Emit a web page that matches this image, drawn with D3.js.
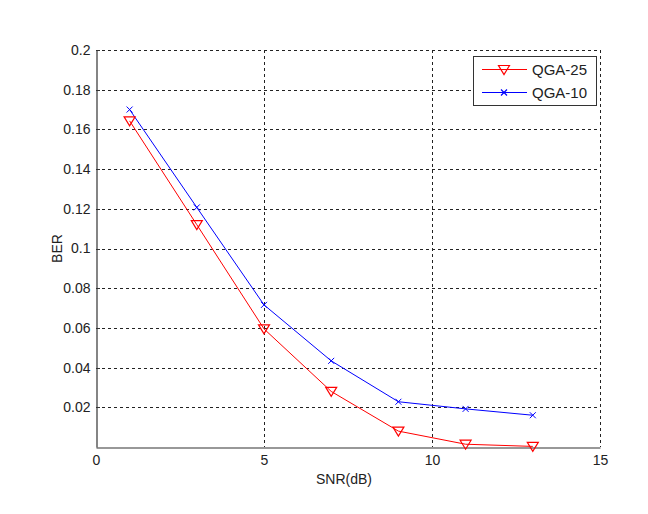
<!DOCTYPE html>
<html><head><meta charset="utf-8">
<script src="https://cdn.jsdelivr.net/npm/d3@7/dist/d3.min.js"></script>
<style>body{margin:0;background:#fff}svg{display:block}text{font-family:"Liberation Sans",Arial,sans-serif}</style>
</head><body>
<script>
const snr = [1, 3, 5, 7, 9, 11, 13];
const qga25 = [0.1643, 0.112, 0.0595, 0.028, 0.008, 0.0014, 0.0003];
const qga10 = [0.170, 0.1207, 0.0716, 0.0434, 0.0228, 0.0192, 0.016];
const xTicks = [0, 5, 10, 15];
const yTicks = [0.02, 0.04, 0.06, 0.08, 0.1, 0.12, 0.14, 0.16, 0.18, 0.2];
const seriesNames = ["QGA-25", "QGA-10"];

const W = 648, H = 514;
const L = 96, R = 600, T = 50, B = 447;
const svg = d3.select("body").append("svg").attr("width", W).attr("height", H);
const x = d3.scaleLinear().domain([0, 15]).range([L, R]);
const y = d3.scaleLinear().domain([0, 0.2]).range([B, T]);

// grid
const g = svg.append("g");
g.selectAll(".vg").data(xTicks.filter(d => d > 0)).enter().append("line")
  .attr("x1", d => Math.round(x(d)) + 0.5).attr("x2", d => Math.round(x(d)) + 0.5)
  .attr("y1", T).attr("y2", B).attr("stroke", "#222").attr("stroke-dasharray", "3,3");
g.selectAll(".hg").data(yTicks).enter().append("line")
  .attr("y1", d => Math.round(y(d)) + 0.5).attr("y2", d => Math.round(y(d)) + 0.5)
  .attr("x1", L).attr("x2", R).attr("stroke", "#222").attr("stroke-dasharray", "3,3");

// axes
const xa = d3.axisBottom(x).tickValues(xTicks).tickSize(0).tickPadding(6).tickFormat(d3.format("d"));
const ya = d3.axisLeft(y).tickValues(yTicks).tickSize(0).tickPadding(6).tickFormat(d => String(d));
const gx = svg.append("g").attr("transform", `translate(0,${B + 0.5})`).call(xa);
const gy = svg.append("g").attr("transform", `translate(${L + 0.5},0)`).call(ya);
[gx, gy].forEach(a => {
  a.select(".domain").attr("stroke", "#333").attr("stroke-width", 1.2);
  a.selectAll("text").attr("font-size", 14).attr("fill", "#222")
   .attr("font-family", '"Liberation Sans",Arial,sans-serif');
});
gx.selectAll("text").attr("dy", "0.85em");

// inward ticks
svg.selectAll(".yt").data(yTicks).enter().append("line")
  .attr("x1", L).attr("x2", L + 4).attr("y1", d => Math.round(y(d)) + 0.5).attr("y2", d => Math.round(y(d)) + 0.5)
  .attr("stroke", "#333");

// labels
svg.append("text").attr("x", (L + R) / 2 - 4).attr("y", 484).attr("text-anchor", "middle")
  .attr("font-size", 14).attr("fill", "#222").text("SNR(dB)");
svg.append("text").attr("transform", `translate(62,${(T + B) / 2}) rotate(-90)`).attr("text-anchor", "middle")
  .attr("font-size", 14).attr("fill", "#222").text("BER");

const line = d3.line().x(d => x(d[0])).y(d => y(d[1]));
const d25 = snr.map((s, i) => [s, qga25[i]]);
const d10 = snr.map((s, i) => [s, qga10[i]]);

svg.append("path").datum(d25).attr("d", line).attr("fill", "none").attr("stroke", "#ff0000").attr("stroke-width", 1);
svg.append("path").datum(d10).attr("d", line).attr("fill", "none").attr("stroke", "#0000ff").attr("stroke-width", 1);

const tri = (cx, cy) => `M${cx - 5.5},${cy - 4}L${cx + 5.5},${cy - 4}L${cx},${cy + 5}Z`;
const cross = (cx, cy) => `M${cx - 3},${cy - 3}L${cx + 3},${cy + 3}M${cx - 3},${cy + 3}L${cx + 3},${cy - 3}`;

svg.selectAll(".m25").data(d25).enter().append("path")
  .attr("d", d => tri(x(d[0]), y(d[1]))).attr("fill", "none").attr("stroke", "#ff0000").attr("stroke-width", 1.2);
svg.selectAll(".m10").data(d10).enter().append("path")
  .attr("d", d => cross(x(d[0]), y(d[1]))).attr("fill", "none").attr("stroke", "#0000ff").attr("stroke-width", 1);

// legend
const lg = svg.append("g");
lg.append("rect").attr("x", 473.5).attr("y", 56.5).attr("width", 123).attr("height", 49)
  .attr("fill", "#fff").attr("stroke", "#333");
const rows = [
  {name: seriesNames[0], color: "#ff0000", y: 69, mk: tri},
  {name: seriesNames[1], color: "#0000ff", y: 92, mk: cross}
];
rows.forEach(r => {
  lg.append("line").attr("x1", 482).attr("x2", 527).attr("y1", r.y + 0.5).attr("y2", r.y + 0.5).attr("stroke", r.color);
  lg.append("path").attr("d", r.mk(504, r.y + 0.5)).attr("fill", "none").attr("stroke", r.color).attr("stroke-width", 1.2);
  lg.append("text").attr("x", 532).attr("y", r.y + 5.5).attr("font-size", 15).attr("fill", "#222").text(r.name);
});
</script>
</body></html>
